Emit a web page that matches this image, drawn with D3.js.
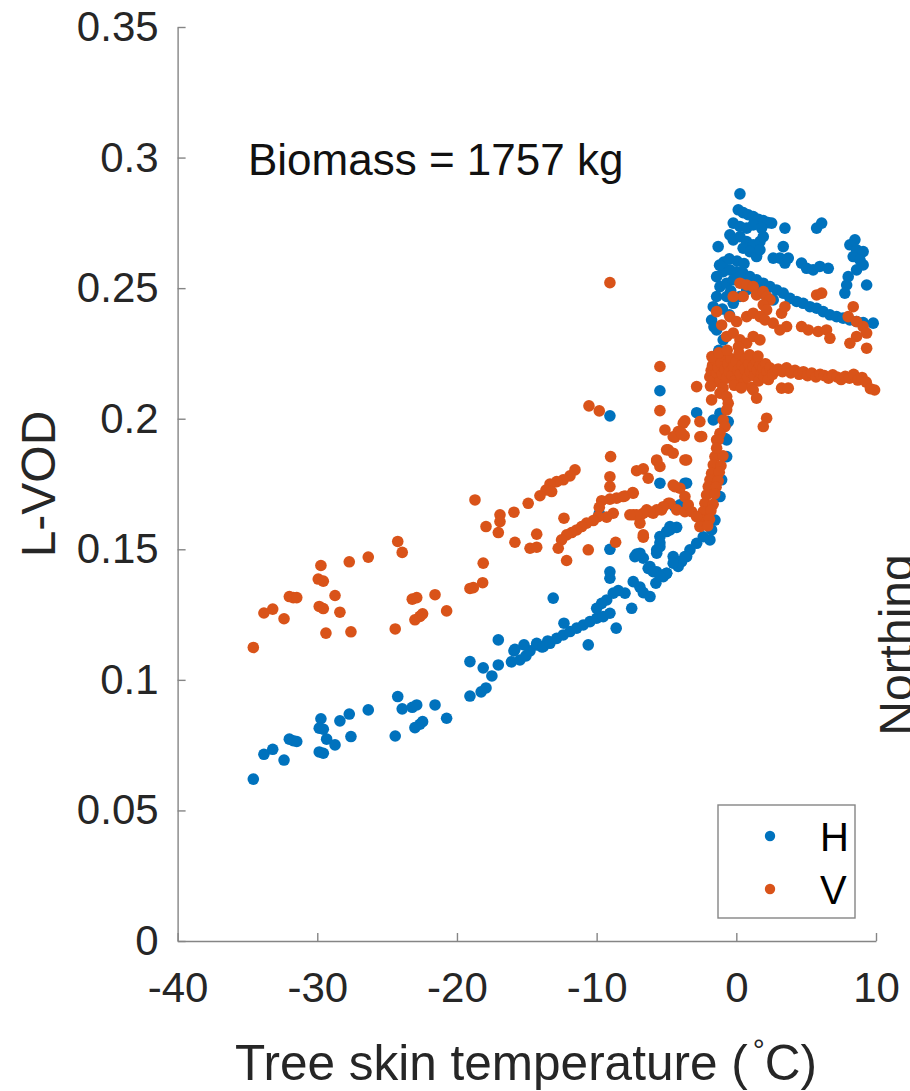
<!DOCTYPE html>
<html>
<head>
<meta charset="utf-8">
<script src="https://cdn.jsdelivr.net/npm/d3@7"></script>
<style>
  html, body { margin: 0; padding: 0; background: #fff; }
  svg { display: block; }
  text { font-family: "Liberation Sans", Arial, Helvetica, sans-serif; }
</style>
</head>
<body>
<svg id="chart" width="910" height="1091"></svg>
<script>
// L-VOD vs tree skin temperature, H and V polarisation
const seriesNames = ["H", "V"];
const seriesColors = ["#0072BD", "#D95319"];
const xTicks = [-40, -30, -20, -10, 0, 10];
const yTicks = [0, 0.05, 0.1, 0.15, 0.2, 0.25, 0.3, 0.35];
const yTickLabels = ["0", "0.05", "0.1", "0.15", "0.2", "0.25", "0.3", "0.35"];
const annotation = "Biomass = 1757 kg";

// [temperature °C, L-VOD] – H polarisation
const hPoints = [
  [-34.58,0.0620],[-33.82,0.0715],[-33.19,0.0734],[-32.38,0.0693],[-32.00,0.0773],[-31.72,0.0767],[-31.47,0.0764],
  [-29.74,0.0851],[-29.86,0.0815],[-29.57,0.0811],[-29.33,0.0773],[-29.86,0.0724],[-29.57,0.0719],[-28.73,0.0751],
  [-28.38,0.0843],[-27.71,0.0869],[-27.59,0.0783],[-26.35,0.0885],[-24.24,0.0936],[-23.92,0.0889],[-24.42,0.0785],
  [-23.20,0.0895],[-22.88,0.0904],[-23.01,0.0817],[-22.65,0.0830],[-22.46,0.0840],[-21.57,0.0904],[-20.74,0.0853],
  [-19.07,0.0938],[-19.07,0.1070],[-18.12,0.1046],[-17.92,0.0969],[-18.27,0.0954],[-17.50,0.1015],[-17.04,0.1057],
  [-17.04,0.1153],[-16.10,0.1069],[-15.92,0.1111],[-15.49,0.1076],[-15.06,0.1092],[-14.77,0.1111],[-14.29,0.1134],
  [-13.93,0.1126],[-13.50,0.1149],[-15.20,0.1134],[-15.85,0.1117],[-14.29,0.1140],[-13.11,0.1313],
  [-13.82,0.1127],[-13.34,0.1140],[-12.86,0.1159],[-12.39,0.1172],[-11.91,0.1185],[-11.43,0.1198],[-10.96,0.1210],
  [-10.48,0.1223],[-10.00,0.1236],[-9.53,0.1242],[-9.05,0.1255],[-12.34,0.1217],[-8.60,0.1198],[-10.60,0.1134],
  [-9.05,0.2011],[-5.47,0.2107],[-5.47,0.1753],[-3.68,0.1753],[-9.81,0.1638],[-4.75,0.1574],[-4.27,0.1584],
  [-5.47,0.1525],[-5.70,0.1498],[-9.05,0.1500],[-7.14,0.1482],[-6.66,0.1466],[-4.52,0.1472],[-4.04,0.1453],
  [-3.56,0.1472],[-9.05,0.1414],[-9.05,0.1389],[-6.31,0.1427],[-5.70,0.1414],[-5.23,0.1395],[-4.99,0.1408],
  [-7.38,0.1376],[-6.90,0.1355],[-6.66,0.1334],[-6.18,0.1319],[-5.76,0.1370],[-7.97,0.1332],[-8.45,0.1342],
  [-8.81,0.1332],[-9.28,0.1306],[-9.64,0.1293],[-10.00,0.1274],[-7.49,0.1274],
  [0.26,0.2861],[0.14,0.2800],[0.49,0.2789],[0.85,0.2781],[1.21,0.2774],[1.57,0.2764],[1.93,0.2759],[2.28,0.2751],
  [2.53,0.2749],[-0.22,0.2749],[0.26,0.2736],[0.74,0.2730],[1.21,0.2742],[1.81,0.2730],[-0.46,0.2704],[-0.22,0.2685],
  [0.26,0.2697],[0.74,0.2678],[1.21,0.2666],[1.69,0.2678],[1.93,0.2697],[-1.30,0.2659],[0.49,0.2653],[0.97,0.2640],
  [1.45,0.2621],[1.69,0.2647],[3.48,0.2730],[3.36,0.2659],[3.12,0.2615],[3.48,0.2596],[3.72,0.2615],[2.64,0.2615],
  [5.75,0.2730],[6.11,0.2749],[4.67,0.2596],[5.03,0.2576],[5.50,0.2570],[5.98,0.2583],[6.58,0.2576],
  [8.49,0.2685],[8.13,0.2666],[8.61,0.2647],[9.08,0.2640],[8.37,0.2621],[8.85,0.2608],[9.08,0.2589],[8.61,0.2570],
  [8.01,0.2544],[7.90,0.2512],[7.77,0.2481],[9.33,0.2512],
  [-0.94,0.2563],[-0.46,0.2570],[0.02,0.2563],[0.49,0.2557],[0.97,0.2544],[1.45,0.2532],[1.93,0.2519],[2.41,0.2506],
  [2.88,0.2493],[3.36,0.2481],[3.84,0.2461],[4.32,0.2449],[4.79,0.2442],[5.27,0.2429],[5.75,0.2423],[6.22,0.2410],
  [6.70,0.2398],[7.18,0.2391],[7.65,0.2385],[8.13,0.2378],[8.61,0.2372],[9.08,0.2368],[9.80,0.2366],
  [-1.41,0.2544],[-1.17,0.2506],[-1.41,0.2468],[-1.65,0.2429],[-1.77,0.2378],[-1.41,0.2340],[-0.94,0.2302],
  [-0.69,0.2519],[-0.22,0.2532],[0.26,0.2544],[-0.69,0.2468],[-0.22,0.2442],[0.26,0.2468],[0.74,0.2493],
  [1.21,0.2506],[1.69,0.2493],[2.17,0.2468],[2.64,0.2455],
  [-0.90,0.2600],[-0.50,0.2612],[0.05,0.2604],[0.55,0.2594],[-1.20,0.2588],[-1.00,0.2420],[-0.50,0.2398],
  [-1.60,0.2352],[-1.25,0.2262],[-0.40,0.2490],
  [-2.84,0.2023],[-1.65,0.1995],[-0.69,0.1983],[-0.82,0.1925],[-1.17,0.2021],[-0.58,0.1989],[-0.69,0.1919],
  [-0.69,0.1855],[-1.05,0.1766],[-1.17,0.1702],[-1.53,0.1612],[-1.77,0.1574],[-1.89,0.1536],[-2.37,0.1548],
  [-2.84,0.1523],[-3.32,0.1498],[-3.68,0.1472],[-3.92,0.1453],[-4.16,0.1434],[-4.52,0.1447],[-4.99,0.1408],
  [-5.47,0.1510],[-5.70,0.1485],[-6.90,0.1485],[-7.26,0.1472],[-6.18,0.1434],[-5.95,0.1414],[-5.47,0.1395],
  [-3.56,0.1753],[-4.04,0.1670],[-4.40,0.1663],[-4.75,0.1587],[-4.99,0.1568],[-5.47,0.1549]
];

// [temperature °C, L-VOD] – V polarisation
const vPoints = [
  [-34.58,0.1124],[-33.82,0.1256],[-33.19,0.1271],[-32.38,0.1234],[-32.00,0.1319],[-31.72,0.1315],[-31.47,0.1315],
  [-29.74,0.1438],[-29.93,0.1386],[-29.57,0.1378],[-29.86,0.1281],[-29.57,0.1273],[-29.38,0.1179],[-28.73,0.1323],
  [-28.38,0.1259],[-27.71,0.1452],[-27.59,0.1184],[-26.35,0.1470],[-24.24,0.1530],[-23.92,0.1488],[-24.42,0.1195],
  [-23.20,0.1309],[-22.88,0.1315],[-23.01,0.1230],[-22.65,0.1243],[-22.46,0.1253],[-21.57,0.1326],[-20.74,0.1264],
  [-19.07,0.1350],[-5.47,0.2200],[-5.47,0.2031],[-10.55,0.2049],[-9.81,0.2030],[-3.68,0.1992],[-4.40,0.1929],
  [-3.73,0.1935],[-9.00,0.1855],[-4.87,0.1881],[-3.68,0.1842],[-5.70,0.1838],[-11.55,0.1804],[-11.91,0.1781],
  [-12.39,0.1766],[-12.86,0.1759],[-13.34,0.1750],[-13.63,0.1727],[-14.06,0.1705],[-13.22,0.1721],[-9.05,0.1778],
  [-9.05,0.1740],[-7.14,0.1801],[-6.66,0.1808],[-6.31,0.1772],[-4.52,0.1746],[-4.04,0.1734],[-7.42,0.1717],
  [-7.97,0.1704],[-8.57,0.1696],[-9.05,0.1692],[-9.64,0.1686],[-9.81,0.1661],[-14.90,0.1676],[-15.92,0.1642],
  [-18.71,0.1689],[-16.92,0.1632],[-16.92,0.1606],[-17.04,0.1564],[-17.92,0.1587],[-12.34,0.1619],[-14.29,0.1558],
  [-8.81,0.1638],[-9.28,0.1623],[-9.89,0.1625],[-10.24,0.1610],[-10.72,0.1600],[-11.07,0.1587],[-11.43,0.1574],
  [-11.79,0.1564],[-12.15,0.1555],[-12.51,0.1536],[-12.75,0.1504],[-7.38,0.1632],[-6.90,0.1628],[-6.42,0.1651],
  [-5.95,0.1638],[-5.35,0.1651],[-4.75,0.1676],[-4.27,0.1651],[-3.68,0.1644],[-6.90,0.1600],[-15.85,0.1527],
  [-14.77,0.1504],[-14.29,0.1508],[-10.60,0.1498],[-12.15,0.1457],[-8.64,0.1527],[-6.66,0.1546],[-18.12,0.1447],
  [-18.16,0.1372],[-18.83,0.1353],
  [-9.05,0.2521],[0.26,0.2519],[0.74,0.2512],[1.21,0.2506],[0.49,0.2468],[-0.22,0.2468],[1.45,0.2474],[1.93,0.2487],
  [2.17,0.2468],[2.41,0.2455],[1.93,0.2436],[2.17,0.2417],[-1.41,0.2410],[-1.05,0.2359],[-0.46,0.2391],[0.02,0.2372],
  [0.74,0.2391],[1.21,0.2404],[1.69,0.2391],[2.05,0.2378],[2.64,0.2366],[3.24,0.2404],[3.48,0.2429],[3.60,0.2353],
  [3.12,0.2340],[-0.69,0.2315],[-0.22,0.2328],[0.26,0.2302],[0.74,0.2289],[1.21,0.2315],[1.69,0.2302],
  [5.75,0.2474],[6.11,0.2481],[4.67,0.2353],[5.15,0.2340],[5.86,0.2334],[6.46,0.2340],[6.70,0.2308],
  [8.37,0.2429],[8.01,0.2391],[8.61,0.2372],[9.08,0.2353],[9.33,0.2328],[8.61,0.2315],[8.13,0.2289],[9.33,0.2270],
  [-1.90,0.2160],[-1.80,0.2185],[-1.70,0.2205],[-1.60,0.2150],[-1.50,0.2225],[-1.40,0.2175],[-1.30,0.2195],
  [-1.20,0.2140],[-1.10,0.2215],[-1.00,0.2170],[-0.90,0.2240],[-0.80,0.2190],[-0.70,0.2155],[-0.60,0.2210],
  [-0.50,0.2180],[-0.40,0.2230],[-0.30,0.2165],[-0.20,0.2200],[-0.10,0.2145],[0.00,0.2220],[0.10,0.2185],
  [0.20,0.2250],[0.30,0.2170],[0.40,0.2205],[0.50,0.2135],[0.60,0.2190],[0.70,0.2230],[0.80,0.2160],
  [0.90,0.2210],[1.00,0.2180],[1.10,0.2120],[1.20,0.2200],[1.30,0.2165],[1.40,0.2225],[1.50,0.2185],
  [1.60,0.2145],[1.70,0.2205],[1.80,0.2175],[1.90,0.2195],[2.00,0.2160],[2.10,0.2210],[2.20,0.2180],
  [2.30,0.2150],[2.40,0.2195],[2.60,0.2170],[2.80,0.2185],
  [-1.75,0.2238],[-1.25,0.2252],[-0.65,0.2262],[-0.15,0.2128],[0.35,0.2118],[0.95,0.2245],[-1.85,0.2125],
  [-0.95,0.2118],[1.55,0.2240],[0.15,0.2275],
  [3.00,0.2190],[3.30,0.2180],[3.60,0.2195],[3.90,0.2175],[4.20,0.2185],[4.50,0.2170],[4.80,0.2180],
  [5.10,0.2165],[5.40,0.2175],[5.70,0.2160],[6.00,0.2170],[6.30,0.2165],[6.60,0.2155],[6.90,0.2168],
  [7.20,0.2160],[7.50,0.2150],[7.80,0.2162],[8.10,0.2155],[8.40,0.2170],[8.70,0.2148],[9.00,0.2158],
  [9.30,0.2140],[9.60,0.2115],[9.90,0.2110],[3.24,0.2117],[3.72,0.2117],[1.21,0.2110],[1.45,0.2079],
  [-2.84,0.2123],[-1.77,0.2072],[-1.17,0.2098],[-0.69,0.2085],[-0.58,0.2059],[-0.69,0.2034],[-0.94,0.1995],
  [-0.82,0.1970],[-1.17,0.1944],[-1.41,0.1919],[2.17,0.2002],[1.93,0.1970],[-3.80,0.1983],[-4.16,0.1951],
  [-4.52,0.1931],[-5.11,0.1957],[-2.61,0.1989],[-2.61,0.1931],
  [-1.53,0.1855],[-1.65,0.1823],[-1.77,0.1791],[-1.89,0.1766],[-2.01,0.1740],[-2.13,0.1708],[-2.25,0.1676],
  [-2.37,0.1644],[-2.48,0.1612],[-2.61,0.1587],[-0.96,0.1858],[-1.10,0.1820],[-1.22,0.1795],[-1.30,0.1762],
  [-1.45,0.1738],[-1.55,0.1712],[-1.66,0.1672],[-1.82,0.1648],[-1.92,0.1615],[-2.05,0.1590],[-1.30,0.1919],
  [-1.41,0.1887],[-2.48,0.1932],[-3.92,0.1945],[-3.56,0.1842],[-4.99,0.1881],[-4.52,0.1868],[-5.70,0.1842],
  [-5.47,0.1817],[-7.38,0.1715],[-8.10,0.1702],[-4.40,0.1740],[-3.68,0.1702],[-3.44,0.1670],[-3.20,0.1644],
  [-2.84,0.1625],[-4.87,0.1676],[-5.23,0.1663],[-5.70,0.1651],[-6.18,0.1644],[-6.66,0.1638],[-7.14,0.1632],
  [-7.62,0.1632],[-6.66,0.1555]
];

const svg = d3.select("#chart");
svg.append("rect").attr("width", 910).attr("height", 1091).attr("fill", "#fff");

const x = d3.scaleLinear().domain([-40, 10]).range([177.6, 876]);
const y = d3.scaleLinear().domain([0, 0.35]).range([941, 27]);

const axisColor = "#858585";
const textColor = "#262626";

// scatter: H first, V drawn on top
[hPoints, vPoints].forEach((pts, i) => {
  svg.append("g")
    .selectAll("circle")
    .data(pts)
    .join("circle")
    .attr("cx", d => x(d[0]))
    .attr("cy", d => y(d[1]))
    .attr("r", 5.8)
    .attr("fill", seriesColors[i]);
});

// axes (ticks point inward)
const yAxis = d3.axisLeft(y)
  .tickValues(yTicks)
  .tickFormat((d, i) => yTickLabels[i])
  .tickSizeInner(-8).tickSizeOuter(0).tickPadding(19);
const xAxis = d3.axisBottom(x)
  .tickValues(xTicks)
  .tickFormat(d3.format("d"))
  .tickSizeInner(-8).tickSizeOuter(0).tickPadding(31);

const gy = svg.append("g").attr("transform", `translate(${x(-40)},0)`).call(yAxis);
const gx = svg.append("g").attr("transform", `translate(0,${y(0)})`).call(xAxis);
[gx, gy].forEach(g => {
  g.select(".domain").attr("stroke", axisColor).attr("stroke-width", 1.4);
  g.selectAll(".tick line").attr("stroke", axisColor).attr("stroke-width", 1.4);
  g.selectAll(".tick text")
    .attr("fill", textColor)
    .attr("font-size", 42)
    .attr("font-family", '"Liberation Sans", Arial, sans-serif');
});
gx.selectAll(".tick text").text(d => d < 0 ? "-" + Math.abs(d) : String(d));

// axis titles
svg.append("text")
  .attr("transform", "translate(55,484) rotate(-90)")
  .attr("text-anchor", "middle")
  .attr("font-size", 48)
  .attr("fill", textColor)
  .text("L-VOD");

const xl = svg.append("text")
  .attr("x", 526).attr("y", 1080)
  .attr("text-anchor", "middle")
  .attr("font-size", 49.5)
  .attr("fill", textColor);
xl.append("tspan").text("Tree skin temperature (");
xl.append("tspan").attr("dx", 5).attr("dy", -20).attr("font-size", 30).text("°");
xl.append("tspan").attr("dy", 20).text("C)");

// annotation
svg.append("text")
  .attr("x", 248).attr("y", 175)
  .attr("font-size", 44)
  .attr("fill", "#111")
  .text(annotation);

// neighbouring panel's axis title, clipped by the right edge
svg.append("text")
  .attr("transform", "translate(913,645) rotate(-90)")
  .attr("text-anchor", "middle")
  .attr("font-size", 48)
  .attr("fill", textColor)
  .text("Northing");

// legend
const lg = svg.append("g");
lg.append("rect")
  .attr("x", 718).attr("y", 805).attr("width", 137).attr("height", 113)
  .attr("fill", "#fff").attr("stroke", axisColor).attr("stroke-width", 1.4);
seriesNames.forEach((name, i) => {
  const cy = 836 + i * 53;
  lg.append("circle").attr("cx", 770).attr("cy", cy).attr("r", 5.2).attr("fill", seriesColors[i]);
  lg.append("text").attr("x", 820).attr("y", cy + 15)
    .attr("font-size", 40).attr("fill", "#000").text(name);
});
</script>
</body>
</html>
